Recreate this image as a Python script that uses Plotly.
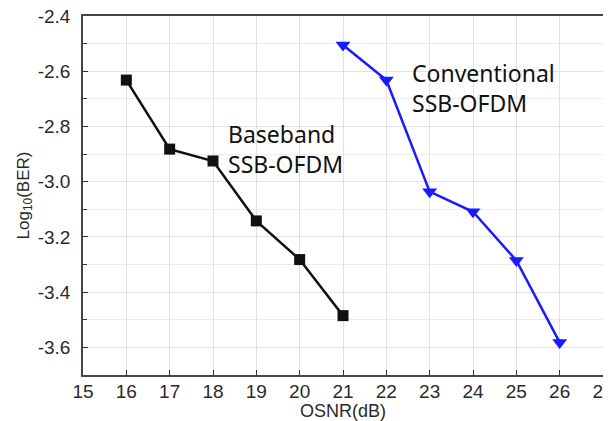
import plotly.graph_objects as go

osnr_base = [16, 17, 18, 19, 20, 21]
ber_base = [-2.632, -2.882, -2.925, -3.142, -3.282, -3.485]
osnr_conv = [21, 22, 23, 24, 25, 26]
ber_conv = [-2.505, -2.632, -3.036, -3.109, -3.285, -3.582]

x_ticks = list(range(15, 28))
y_ticks = [-2.4, -2.6, -2.8, -3.0, -3.2, -3.4, -3.6]
y_tick_text = ["-2.4", "-2.6", "-2.8", "-3.0", "-3.2", "-3.4", "-3.6"]

fig = go.Figure()
fig.add_trace(go.Scatter(
    x=osnr_base, y=ber_base, mode="lines+markers",
    line=dict(color="#111111", width=2.5),
    marker=dict(symbol="square", size=11, color="#111111"),
    showlegend=False))
fig.add_trace(go.Scatter(
    x=osnr_conv, y=ber_conv, mode="lines+markers",
    line=dict(color="#1a1aff", width=2.5),
    marker=dict(symbol="triangle-down", size=13, color="#1a1aff"),
    showlegend=False))

fig.add_annotation(x=18.3, y=-2.882, xref="x", yref="y",
                   text="Baseband<br>SSB-OFDM", showarrow=False,
                   xanchor="left", yanchor="middle", align="left",
                   font=dict(family="Noto Sans", size=23, color="#111111"))
fig.add_annotation(x=22.55, y=-2.661, xref="x", yref="y",
                   text="Conventional<br>SSB-OFDM", showarrow=False,
                   xanchor="left", yanchor="middle", align="left",
                   font=dict(family="Noto Sans", size=23, color="#111111"))

# page has an 8px body margin, so the figure is sized/offset to compensate
fig.update_layout(
    width=603, height=413,
    margin=dict(l=75, r=8, t=8, b=46, autoexpand=False),
    paper_bgcolor="white", plot_bgcolor="white",
    font=dict(family="Liberation Sans, Arial, sans-serif", color="#222222"),
    xaxis=dict(
        range=[15, 27], tickmode="array", tickvals=x_ticks,
        ticktext=[str(v) for v in x_ticks],
        tickfont=dict(size=19, color="#2a2a2a"),
        ticklabeloverflow="allow", ticklabelstandoff=-2,
        showgrid=True, gridcolor="#e2e2e2", gridwidth=1,
        showline=True, linecolor="#444444", linewidth=1.5, mirror=True,
        ticks="inside", ticklen=5, tickcolor="#333333",
        zeroline=False, automargin=False,
        title=dict(text="OSNR(dB)", font=dict(size=18, color="#2a2a2a"), standoff=8),
    ),
    yaxis=dict(
        range=[-3.7, -2.4], tickmode="array", tickvals=y_ticks, ticktext=y_tick_text,
        tickfont=dict(size=19, color="#2a2a2a"),
        ticklabeloverflow="allow", ticklabelstandoff=7,
        showgrid=True, gridcolor="#e2e2e2", gridwidth=1,
        showline=True, linecolor="#444444", linewidth=1.5, mirror=True,
        ticks="inside", ticklen=5, tickcolor="#333333",
        zeroline=False, automargin=False,
        minor=dict(dtick=0.1, tick0=-2.4, ticks="inside", ticklen=4, tickcolor="#333333",
                   showgrid=True, gridcolor="#ececec"),
        title=dict(text="Log<sub>10</sub>(BER)", font=dict(size=17, color="#2a2a2a"), standoff=4),
    ),
)

fig.write_html("out.html")
